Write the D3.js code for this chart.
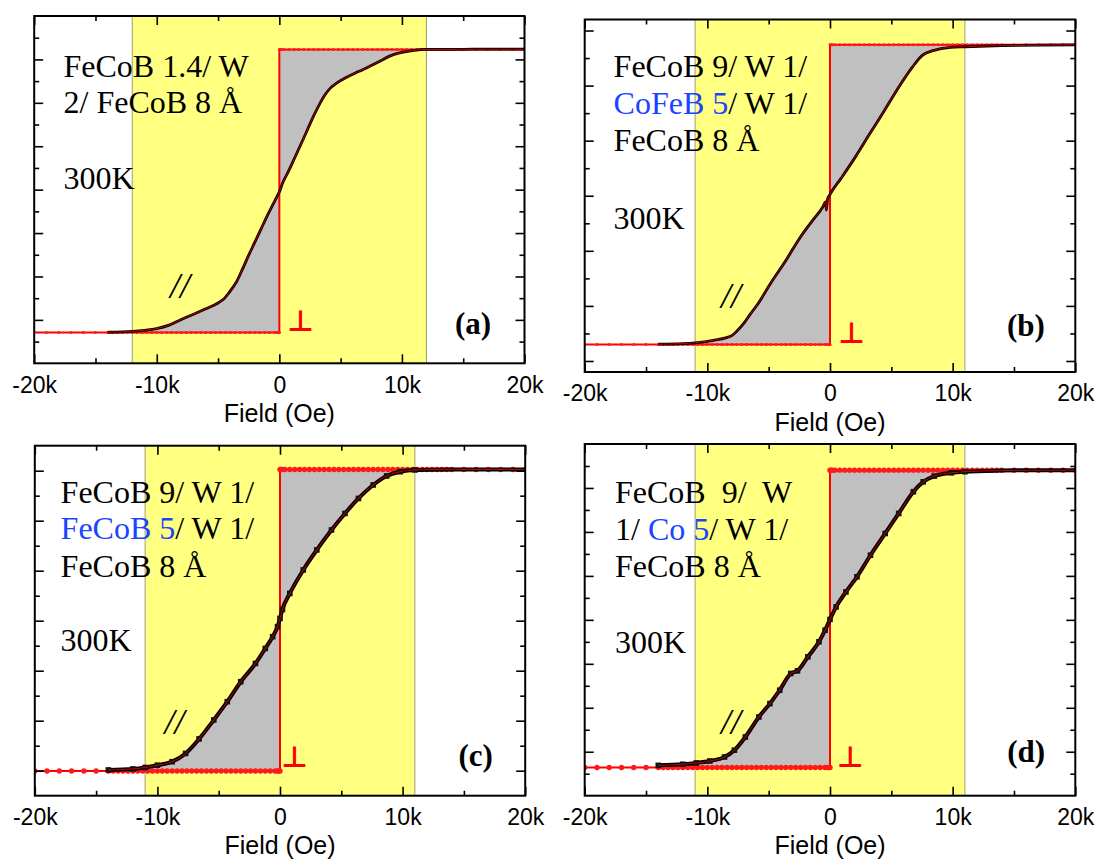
<!DOCTYPE html>
<html><head><meta charset="utf-8">
<script src="https://cdn.jsdelivr.net/npm/d3@7"></script>
<style>
html,body{margin:0;padding:0;background:#fff;}
svg{display:block;}
text{white-space:pre;}
</style></head><body>
<svg id="chart" width="1097" height="859"></svg>
<script>
// ================= DATA =================
const xTickValues = [-20000, -10000, 0, 10000, 20000];
const xTickLabels = ["-20k", "-10k", "0", "10k", "20k"];
const xMinorTicks = [-15000, -5000, 5000, 15000];
const xAxisTitle = "Field (Oe)";

// in-plane (//) loops: field (Oe), moment (arb. units)
const fieldA  = [-14000,-12000,-11000,-10000,-9000,-8000,-7000,-6000,-5000,-4500,-4100,-3500,-3000,-2500,-2000,-1500,-1000,-500,-200,0,300,700,1200,2000,2800,3700,4200,4700,5500,6500,7500,8200,9000,9800,11000,12000,14000,16000,18000,20000];
const momentA = [-6.57,-6.53,-6.48,-6.40,-6.24,-5.98,-5.74,-5.49,-5.22,-5.02,-4.74,-4.25,-3.65,-3.02,-2.42,-1.82,-1.22,-0.66,-0.33,-0.10,0.35,0.80,1.40,2.39,3.40,4.35,4.70,4.92,5.18,5.45,5.72,5.92,6.15,6.30,6.42,6.46,6.46,6.47,6.47,6.47];

const fieldB  = [-14000,-12000,-11000,-9400,-8500,-8000,-7600,-7000,-6500,-5900,-4800,-3600,-2500,-1300,-600,-350,-300,-200,0,900,2100,3200,4400,5500,6700,7500,8400,9800,11000,14000,17000,20000];
const momentB = [-5.39,-5.37,-5.34,-5.24,-5.16,-5.08,-4.92,-4.62,-4.30,-3.94,-3.15,-2.35,-1.56,-0.83,-0.42,-0.22,-0.52,-0.12,0.05,0.63,1.43,2.22,3.07,3.87,4.66,5.09,5.27,5.39,5.41,5.45,5.47,5.48];

const fieldC  = [-14000,-12000,-11000,-10000,-8800,-7700,-6600,-5400,-4300,-3200,-2000,-1200,-600,-200,0,200,800,1900,3000,4200,5300,6400,7600,8700,9800,11000,14000,17000,20000];
const momentC = [-5.97,-5.93,-5.87,-5.78,-5.64,-5.31,-4.73,-3.97,-3.24,-2.44,-1.71,-1.11,-0.64,-0.24,0.09,0.45,1.09,2.03,2.83,3.63,4.29,4.89,5.43,5.79,5.96,6.03,6.05,6.05,6.05];

const fieldD  = [-14000,-12000,-10900,-9800,-8600,-7800,-6900,-5800,-4900,-4100,-3200,-2650,-1800,-900,-400,0,500,1300,2200,3300,4500,5600,6800,7600,8500,9900,11000,14000,17000,20000];
const momentD = [-6.62,-6.57,-6.51,-6.42,-6.24,-5.93,-5.33,-4.42,-3.81,-3.20,-2.44,-2.32,-1.68,-1.00,-0.47,0.02,0.59,1.27,1.96,2.94,3.93,4.84,5.83,6.28,6.54,6.69,6.74,6.79,6.81,6.81];

// perpendicular (⊥) loops: measured fields of the lower and upper branch
const perpFieldNeg = [-20000,-19000,-18000,-17000,-16000,-15000,-14000,-13600,-13200,-12800,-12400,-12000,-11600,-11200,-10800,-10400,-10000,-9600,-9200,-8800,-8400,-8000,-7600,-7200,-6800,-6400,-6000,-5600,-5200,-4800,-4400,-4000,-3600,-3200,-2800,-2400,-2000,-1600,-1200,-800,-400,-200,-100,0];
const perpFieldPos = [0,100,200,400,800,1200,1600,2000,2400,2800,3200,3600,4000,4400,4800,5200,5600,6000,6400,6800,7200,7600,8000,8400,8800,9200,9600,10000,10400,10800,11200,11600,12000,12400,12800,13200,13600,14000,15000,16000,17000,18000,19000,20000];
// saturation levels of the ⊥ loop in each panel
const perpLow  = [-6.58, -5.40, -6.01, -6.72];
const perpHigh = [ 6.46,  5.48,  6.05,  6.81];
// half width of the highlighted field window (Oe)
const bandHalfWidth = [12000, 11000, 11000, 11000];

const panelLetters = ["(a)", "(b)", "(c)", "(d)"];
const tempLabel = "300K";
const inPlaneLabel = "//";
const perpLabel = "\u22A5";
// stack labels: [text, isBlue]
const stackLines = [
  [[["FeCoB 1.4/ W", 0]], [["2/ FeCoB 8 \u00C5", 0]]],
  [[["FeCoB 9/ W 1/", 0]], [["CoFeB 5", 1], ["/ W 1/", 0]], [["FeCoB 8 \u00C5", 0]]],
  [[["FeCoB 9/ W 1/", 0]], [["FeCoB 5", 1], ["/ W 1/", 0]], [["FeCoB 8 \u00C5", 0]]],
  [[["FeCoB  9/  W", 0]], [["1/ ", 0], ["Co 5", 1], ["/ W 1/", 0]], [["FeCoB 8 \u00C5", 0]]]
];

// ================= LAYOUT =================
const layout = [
  {x0:34.2, x1:524.5, y0:16,    y1:363.3, yDom:[-8,8],     textX:63.5,  lineY:[76.5,113],        tempY:188.5, letX:455,    letY:333.5, slX:170,   slY:298,   pX:300.5, pY:331,   big:false},
  {x0:584.7,x1:1075.3,y0:19.5,  y1:372,   yDom:[-6.4,6.4], textX:613.6, lineY:[76.7,114,151],    tempY:228.5, letX:1007,   letY:335.5, slX:721,   slY:308,   pX:851.5, pY:343,   big:false},
  {x0:34.8, x1:525.2, y0:445.7, y1:795.7, yDom:[-7,7],     textX:60.6,  lineY:[502.7,539.4,576.7],tempY:650.7, letX:458.5,  letY:765.5, slX:164.5, slY:734,   pX:294.5, pY:767,   big:true},
  {x0:584.7,x1:1075.3,y0:444,   y1:795.7, yDom:[-8,8],     textX:615,   lineY:[503.3,540,576.7], tempY:652.8, letX:1007.3, letY:761.8, slX:721,   slY:734,   pX:850.3, pY:767,   big:true}
];

const fields  = [fieldA, fieldB, fieldC, fieldD];
const moments = [momentA, momentB, momentC, momentD];

const svg = d3.select("#chart");
const SERIF = "'Liberation Serif','Times New Roman',serif";
const SANS  = "'Liberation Sans',Arial,sans-serif";
const BLUE = "#1a44ff";

layout.forEach((L, i) => {
  const x = d3.scaleLinear().domain([-20000, 20000]).range([L.x0, L.x1]);
  const y = d3.scaleLinear().domain(L.yDom).range([L.y1, L.y0]);
  const g = svg.append("g");
  const clipId = "clip" + i;
  svg.append("clipPath").attr("id", clipId).append("rect")
    .attr("x", L.x0).attr("y", L.y0).attr("width", L.x1 - L.x0).attr("height", L.y1 - L.y0);
  const plot = g.append("g").attr("clip-path", `url(#${clipId})`);

  // yellow window
  const bw = bandHalfWidth[i];
  plot.append("rect").attr("x", x(-bw)).attr("y", L.y0)
    .attr("width", x(bw) - x(-bw)).attr("height", L.y1 - L.y0).attr("fill", "#ffff80");
  [-bw, bw].forEach(v => plot.append("line").attr("x1", x(v)).attr("x2", x(v))
    .attr("y1", L.y0).attr("y2", L.y1).attr("stroke", "#a09f7a").attr("stroke-width", 1));

  const pts = fields[i].map((f, k) => ({f, m: moments[i][k]}));
  const lo = perpLow[i], hi = perpHigh[i];

  // gray area between // and ⊥ loops
  const negPts = pts.filter(p => p.f <= 0);
  const posPts = pts.filter(p => p.f >= 0);
  const areaNeg = d3.area().curve(d3.curveMonotoneX).x(p => x(p.f)).y0(y(lo)).y1(p => y(p.m));
  const areaPos = d3.area().curve(d3.curveMonotoneX).x(p => x(p.f)).y0(y(hi)).y1(p => y(p.m));
  plot.append("path").attr("d", areaNeg(negPts)).attr("fill", "#c0c0c0");
  plot.append("path").attr("d", areaPos(posPts)).attr("fill", "#c0c0c0");

  // ⊥ loop (red step with dots)
  const perpPts = perpFieldNeg.map(f => ({f, m: lo})).concat(perpFieldPos.map(f => ({f, m: hi})));
  plot.append("path").attr("d", d3.line().x(p => x(p.f)).y(p => y(p.m))(perpPts))
    .attr("fill", "none").attr("stroke", "#ff0000").attr("stroke-width", 2);
  plot.selectAll(null).data(perpPts).enter().append("circle")
    .attr("cx", p => x(p.f)).attr("cy", p => y(p.m)).attr("r", L.big ? 2.7 : 1.5).attr("fill", "#ff1a1a");

  // // loop (black markers/line with thin red line)
  const line = d3.line().curve(d3.curveMonotoneX).x(p => x(p.f)).y(p => y(p.m));
  plot.append("path").attr("d", line(pts)).attr("fill", "none").attr("stroke", "#000")
    .attr("stroke-width", L.big ? 4 : 2.8);
  if (L.big) {
    plot.selectAll(null).data(pts.filter(p => p.f < 14000)).enter().append("rect")
      .attr("x", p => x(p.f) - 2.8).attr("y", p => y(p.m) - 2.8).attr("width", 5.6).attr("height", 5.6).attr("fill", "#111");
  }
  plot.append("path").attr("d", line(pts)).attr("fill", "none").attr("stroke", "#c00000").attr("stroke-width", 1);

  // axes (inward ticks)
  const yMajor = d3.range(Math.ceil(L.yDom[0]), Math.floor(L.yDom[1]) + 1).filter(v => v % 2 === 0 && v > L.yDom[0] && v < L.yDom[1]);
  const yMinor = d3.range(Math.ceil(L.yDom[0]), Math.floor(L.yDom[1]) + 1).filter(v => Math.abs(v % 2) === 1 && v > L.yDom[0] && v < L.yDom[1]);
  const styleAxis = sel => { sel.select(".domain").remove(); sel.selectAll(".tick line").attr("stroke", "#000").attr("stroke-width", 1.6); };

  const bx = g.append("g").attr("transform", `translate(0,${L.y1})`)
    .call(d3.axisBottom(x).tickValues(xTickValues).tickFormat((d, k) => xTickLabels[k]).tickSizeInner(-9).tickSizeOuter(0).tickPadding(13));
  styleAxis(bx);
  bx.attr("font-family", null).attr("font-size", null);
  bx.selectAll(".tick text").attr("font-family", SANS).attr("font-size", 23).attr("fill", "#000");
  g.append("g").attr("transform", `translate(0,${L.y1})`)
    .call(d3.axisBottom(x).tickValues(xMinorTicks).tickFormat("").tickSizeInner(-5).tickSizeOuter(0)).call(styleAxis);
  g.append("g").attr("transform", `translate(0,${L.y0})`)
    .call(d3.axisTop(x).tickValues(xTickValues).tickFormat("").tickSizeInner(-9).tickSizeOuter(0)).call(styleAxis);
  g.append("g").attr("transform", `translate(0,${L.y0})`)
    .call(d3.axisTop(x).tickValues(xMinorTicks).tickFormat("").tickSizeInner(-5).tickSizeOuter(0)).call(styleAxis);
  g.append("g").attr("transform", `translate(${L.x0},0)`)
    .call(d3.axisLeft(y).tickValues(yMajor).tickFormat("").tickSizeInner(-9).tickSizeOuter(0)).call(styleAxis);
  g.append("g").attr("transform", `translate(${L.x0},0)`)
    .call(d3.axisLeft(y).tickValues(yMinor).tickFormat("").tickSizeInner(-5).tickSizeOuter(0)).call(styleAxis);
  g.append("g").attr("transform", `translate(${L.x1},0)`)
    .call(d3.axisRight(y).tickValues(yMajor).tickFormat("").tickSizeInner(-9).tickSizeOuter(0)).call(styleAxis);
  g.append("g").attr("transform", `translate(${L.x1},0)`)
    .call(d3.axisRight(y).tickValues(yMinor).tickFormat("").tickSizeInner(-5).tickSizeOuter(0)).call(styleAxis);

  // frame
  g.append("rect").attr("x", L.x0).attr("y", L.y0).attr("width", L.x1 - L.x0).attr("height", L.y1 - L.y0)
    .attr("fill", "none").attr("stroke", "#000").attr("stroke-width", 2);

  // axis title
  g.append("text").attr("x", x(0)).attr("y", L.y1 + 58.5).attr("text-anchor", "middle")
    .attr("font-family", SANS).attr("font-size", 25).attr("fill", "#000").text(xAxisTitle);

  // stack label
  stackLines[i].forEach((segs, li) => {
    const t = g.append("text").attr("x", L.textX).attr("y", L.lineY[li])
      .attr("font-family", SERIF).attr("font-size", 32).attr("fill", "#000");
    segs.forEach(([s, blue]) => t.append("tspan").attr("fill", blue ? BLUE : "#000").text(s));
  });
  g.append("text").attr("x", L.textX).attr("y", L.tempY).attr("font-family", SERIF)
    .attr("font-size", 32).attr("fill", "#000").text(tempLabel);

  // panel letter
  g.append("text").attr("x", L.letX).attr("y", L.letY).attr("font-family", SERIF)
    .attr("font-size", 31).attr("font-weight", "bold").attr("fill", "#000").text(panelLetters[i]);
  // in-plane marker
  g.append("text").attr("x", L.slX).attr("y", L.slY).attr("font-family", SERIF)
    .attr("font-size", 36).attr("font-style", "italic").attr("fill", "#000").text(inPlaneLabel);
  // perpendicular marker
  g.append("text").attr("x", L.pX).attr("y", L.pY).attr("text-anchor", "middle")
    .attr("font-family", "'DejaVu Sans',sans-serif").attr("font-size", 29).attr("font-weight", "bold")
    .attr("fill", "#ff0000").text(perpLabel);
});
</script>
</body></html>
